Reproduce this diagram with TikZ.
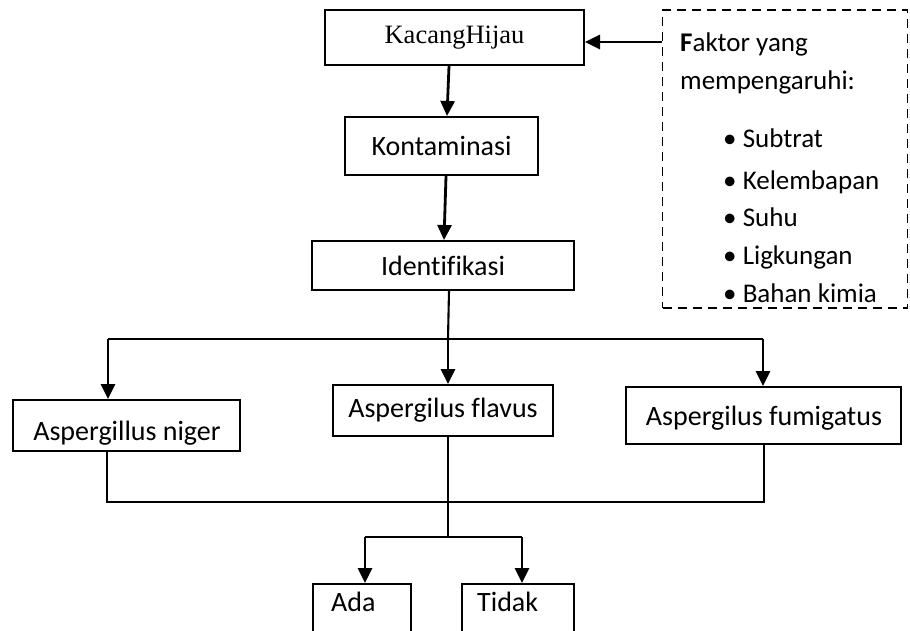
\documentclass[tikz,border=0pt]{standalone}
\usepackage{fontspec}
\setmainfont[Ligatures=CommonOff]{Carlito}
\newfontfamily\tnr{Liberation Serif}
\usetikzlibrary{arrows.meta,calc}
\begin{document}
\begin{tikzpicture}[x=1pt,y=-1pt,
  box/.style={draw,line width=2pt,rectangle,inner sep=0pt,font=\fontsize{28}{32}\selectfont},
  txt/.style={inner sep=0pt,font=\fontsize{28}{32}\selectfont},
  ftxt/.style={inner sep=0pt,font=\fontsize{27}{32}\selectfont},
  arr/.style={line width=2.8pt,-{Triangle[length=15pt,width=14pt]}},
  thin/.style={line width=1.8pt}]
\useasboundingbox (0,0) rectangle (910,630);
\clip (0,0) rectangle (910,630);
% boxes
\node[box,minimum width=259pt,minimum height=55pt,font=\tnr\fontsize{26.5}{32}\selectfont] (kh) at (454.5,37.5) {KacangHijau};
\node[box,minimum width=193pt,minimum height=58pt] (kon) at (441.5,146) {Kontaminasi};
\node[box,minimum width=262pt,minimum height=49pt] (ide) at (443,265.5) {Identifikasi};
\node[box,minimum width=227pt,minimum height=51pt] (nig) at (126.5,425.5) {};
\node[txt,anchor=base] (nigt) at (127,440) {Aspergillus niger};
\node[box,minimum width=220pt,minimum height=51pt] (fla) at (443,410.5) {Aspergilus flavus};
\node[box,minimum width=275pt,minimum height=57pt] (fum) at (763.5,415.5) {};
\node[txt,anchor=base] (fumt) at (764,425) {Aspergilus fumigatus};
\node[box,minimum width=98pt,minimum height=80pt] (ada) at (362,624) {};
\node[txt,anchor=base west] (adat) at (331,611) {Ada};
\node[box,minimum width=112pt,minimum height=80pt] (tid) at (518,624) {};
\node[txt,anchor=base west] (tidt) at (477,611) {Tidak};
% factor box
\node[draw,line width=1.9pt,dash pattern=on 9pt off 6pt,minimum width=245pt,minimum height=298pt,inner sep=0pt] (fak) at (785,159) {};
\node[ftxt,anchor=base west] (f1) at (680,51) {{\bfseries F}aktor yang};
\node[ftxt,anchor=base west] (f2) at (680,89) {mempengaruhi:};
\foreach \n/\t/\y in {b1/Subtrat/147,b2/Kelembapan/189,b3/Suhu/226,b4/Ligkungan/264,b5/Bahan kimia/302}{
  \node[ftxt,anchor=base west] (\n) at (723,\y) {\textbullet\ \t};
}
% connectors
\draw[arr] (fak.west |- 0,42) -- (kh.east |- 0,42);
\draw[arr] (kh.south -| 449,0) -- (kon.north -| 447,0);
\draw[arr] (kon.south -| 446,0) -- (ide.north -| 444,0);
\coordinate (j1) at (448,339);
\draw[line width=2.1pt] (ide.south -| 449,0) -- (j1);
\draw[line width=2.1pt] (108,339) -- (763,339);
\draw[arr] (108,339) -- (nig.north -| 108,0);
\draw[arr] (j1) -- (fla.north -| j1);
\draw[arr] (763,339) -- (fum.north -| 763,0);
\draw[thin] (nig.south -| 107,0) -- (107,502) -- (764,502) -- (fum.south -| 764,0);
\coordinate (j2) at (448,537);
\draw[thin] (fla.south -| j2) -- (j2);
\draw[line width=2.1pt] (365,537) -- (522,537);
\draw[arr] (365,537) -- (ada.north -| 365,0);
\draw[arr] (522,537) -- (tid.north -| 522,0);
\end{tikzpicture}
\end{document}
